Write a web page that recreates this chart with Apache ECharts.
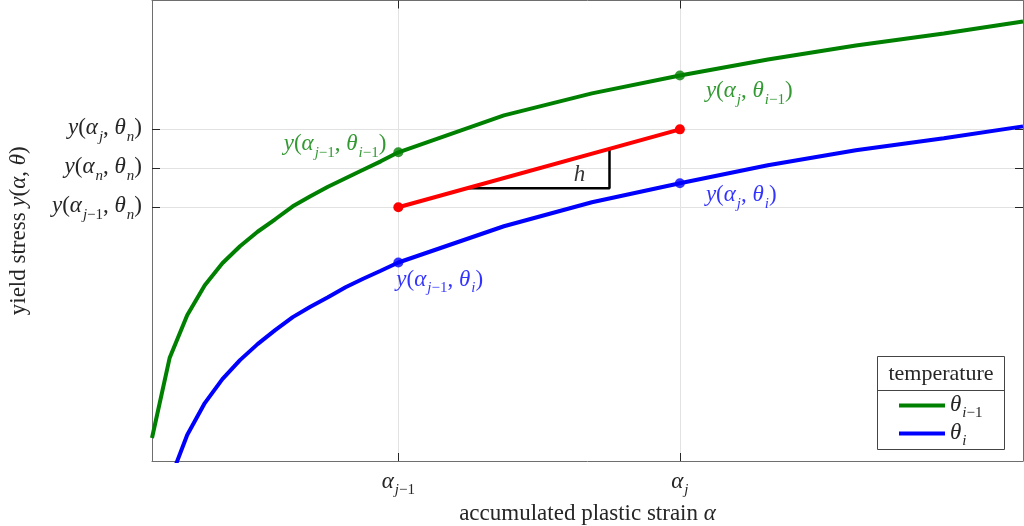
<!DOCTYPE html>
<html><head><meta charset="utf-8">
<script src="https://cdn.jsdelivr.net/npm/echarts@6/dist/echarts.min.js"></script>
<style>html,body{margin:0;padding:0;background:#fff}#c{width:1024px;height:526px}</style>
</head><body><div id="c"></div>
<script>
// ---- data ----
const strainPrev = [0,1,2,3,4,5,6,7,8,9,10,11,12,13,14,20,25,30,35,40,45,49.5];
const yieldPrev  = [23,103,146,176,198,215,229.5,242,255,265,274.5,283,291.5,300,309,346,368,386,402,416,428,440];
const strainCur  = [1,2,3,4,5,6,7,8,9,10,11,12,13,14,20,25,30,35,40,45,49.5];
const yieldCur   = [-20,26,58,82,101,117,131,144,154.5,164,174,182.5,190.5,198.7,235,259,278,296,311,323,335];
const alphaTicks = [14, 30];
const alphaTickLabels = ['{i|α}{si|j}{sn|−1}', '{i|α}{si|j}'];
const yTicks = [254, 293, 332];
const yTickLabels = [
  '{i|y}{n|(}{i|α}{si|j}{sn|−1}{n|, }{i|θ}{si|n}{n|)}',
  '{i|y}{n|(}{i|α}{si|n}{n|, }{i|θ}{si|n}{n|)}',
  '{i|y}{n|(}{i|α}{si|j}{n|, }{i|θ}{si|n}{n|)}'
];
const interpStrain = [14, 30];
const interpYield  = [254, 332];
const triangleStrain = [17.9, 26, 26];
const triangleYield  = [273, 273, 312.5];
const hPoint = [24.3, 285];
const legendNames = ['prev', 'cur'];
const legendLabels = {prev: '{i|θ}{si|i}{sn|−1}', cur: '{i|θ}{si|i}'};
const pointLabels = {
  gPrev: '{i|y}{n|(}{i|α}{si|j}{sn|−1}{n|, }{i|θ}{si|i}{sn|−1}{n|)}',
  gCur:  '{i|y}{n|(}{i|α}{si|j}{n|, }{i|θ}{si|i}{sn|−1}{n|)}',
  bPrev: '{i|y}{n|(}{i|α}{si|j}{sn|−1}{n|, }{i|θ}{si|i}{n|)}',
  bCur:  '{i|y}{n|(}{i|α}{si|j}{n|, }{i|θ}{si|i}{n|)}'
};

// ---- styling ----
const FONT = "'Liberation Serif', 'DejaVu Serif', serif";
const FS = 23, SFS = 15;
function rich(fs, sfs) {
  const p = Math.round(fs * 0.55);
  return {
    n:  {fontFamily: FONT, fontSize: fs, lineHeight: fs + 2, verticalAlign: 'top'},
    i:  {fontFamily: FONT, fontSize: fs, fontStyle: 'italic', lineHeight: fs + 2, verticalAlign: 'top'},
    si: {fontFamily: FONT, fontSize: sfs, fontStyle: 'italic', lineHeight: sfs, verticalAlign: 'top', padding: [p,0,0,1]},
    sn: {fontFamily: FONT, fontSize: sfs, lineHeight: sfs, verticalAlign: 'top', padding: [p,0,0,0]}
  };
}
const R = rich(FS, SFS);
const GREEN = '#008000', BLUE = '#0000ff', RED = '#ff0000';
const zip = (a, b) => a.map((v, k) => [v, b[k]]);

const chart = echarts.init(document.getElementById('c'), null, {renderer: 'canvas'});
const axisLineStyle = {color: '#6e6e6e', width: 1};
const tickStyle = {color: '#262626', width: 1};
const splitStyle = {color: '#e2e2e2', width: 1};

chart.setOption({
  animation: false,
  backgroundColor: '#fff',
  grid: {left: 152, right: 1, top: 0.5, bottom: 65, containLabel: false, outerBoundsMode: 'none'},
  xAxis: [{
    type: 'value', min: 0, max: 49.5, position: 'bottom',
    name: '{n|accumulated plastic strain }{i|α}', nameLocation: 'middle', nameGap: 30,
    nameTextStyle: {color: '#262626', rich: R},
    axisLine: {show: true, onZero: false, lineStyle: axisLineStyle},
    axisTick: {show: true, inside: true, length: 8, customValues: alphaTicks, lineStyle: tickStyle},
    axisLabel: {show: true, customValues: alphaTicks, margin: 9, color: '#262626', rich: R,
      formatter: v => alphaTickLabels[alphaTicks.indexOf(v)] || ''},
    splitLine: {show: true, lineStyle: splitStyle}
  }, {
    type: 'value', min: 0, max: 49.5, position: 'top',
    axisLine: {show: true, onZero: false, lineStyle: axisLineStyle},
    axisTick: {show: true, inside: true, length: 8, customValues: alphaTicks, lineStyle: tickStyle},
    axisLabel: {show: false}, splitLine: {show: false}
  }],
  yAxis: [{
    type: 'value', min: 0, max: 461, position: 'left',
    name: '{n|yield stress }{i|y}{n|(}{i|α}{n|, }{i|θ}{n|)}', nameLocation: 'middle', nameGap: 120, nameRotate: 90,
    nameTextStyle: {color: '#262626', rich: R},
    axisLine: {show: true, onZero: false, lineStyle: axisLineStyle},
    axisTick: {show: true, inside: true, length: 8, customValues: yTicks, lineStyle: tickStyle},
    axisLabel: {show: true, customValues: yTicks, margin: 10, color: '#262626', rich: R,
      formatter: v => yTickLabels[yTicks.indexOf(v)] || ''},
    splitLine: {show: true, lineStyle: splitStyle}
  }, {
    type: 'value', min: 0, max: 461, position: 'right',
    axisLine: {show: true, onZero: false, lineStyle: axisLineStyle},
    axisTick: {show: true, inside: true, length: 8, customValues: yTicks, lineStyle: tickStyle},
    axisLabel: {show: false}, splitLine: {show: false}
  }],
  legend: {
    left: 899, top: 393, orient: 'vertical', itemWidth: 46, itemHeight: 4, itemGap: 0,
    padding: 0, icon: 'rect', data: legendNames,
    formatter: name => legendLabels[name],
    textStyle: {color: '#262626', rich: R}
  },
  graphic: [
    {type: 'rect', shape: {x: 877.5, y: 356.5, width: 127, height: 93}, style: {fill: '#fff', stroke: '#444', lineWidth: 1}, z: 1},
    {type: 'line', shape: {x1: 877.5, y1: 390.5, x2: 1004.5, y2: 390.5}, style: {stroke: '#444', lineWidth: 1}, z: 2},
    {type: 'text', x: 941, y: 374, style: {text: 'temperature', font: '22px ' + FONT, fill: '#262626', textAlign: 'center', textVerticalAlign: 'middle'}, z: 2}
  ],
  series: [
    {name: 'prev', type: 'line', data: zip(strainPrev, yieldPrev), showSymbol: false, symbol: 'none',
     lineStyle: {color: GREEN, width: 4}, itemStyle: {color: GREEN}, z: 3},
    {name: 'cur', type: 'line', data: zip(strainCur, yieldCur), showSymbol: false, symbol: 'none',
     lineStyle: {color: BLUE, width: 4}, itemStyle: {color: BLUE}, z: 3},
    {name: 'tri', type: 'line', data: zip(triangleStrain, triangleYield), symbol: 'none',
     lineStyle: {color: '#000', width: 2.5}, z: 3},
    {name: 'interp', type: 'line', data: zip(interpStrain, interpYield), symbol: 'circle', symbolSize: 10, showSymbol: true,
     lineStyle: {color: RED, width: 4}, itemStyle: {color: RED}, z: 4},
    {name: 'h', type: 'scatter', symbolSize: 1, itemStyle: {color: 'rgba(0,0,0,0)'}, z: 5,
     data: [{value: hPoint, label: {show: true, position: 'inside', formatter: '{i|h}', color: '#000', rich: R}}]},
    {name: 'gpts', type: 'scatter', symbol: 'circle', symbolSize: 10, itemStyle: {color: GREEN}, z: 5,
     label: {show: true, position: 'inside', color: GREEN, rich: R, verticalAlign: 'middle'},
     data: [
       {value: [alphaTicks[0], yieldPrev[strainPrev.indexOf(alphaTicks[0])]], label: {formatter: pointLabels.gPrev, align: 'right', offset: [-12, -7]}},
       {value: [alphaTicks[1], yieldPrev[strainPrev.indexOf(alphaTicks[1])]], label: {formatter: pointLabels.gCur, align: 'left', offset: [26, 17]}}
     ]},
    {name: 'bpts', type: 'scatter', symbol: 'circle', symbolSize: 10, itemStyle: {color: BLUE}, z: 5,
     label: {show: true, position: 'inside', color: BLUE, rich: R, verticalAlign: 'middle'},
     data: [
       {value: [alphaTicks[0], yieldCur[strainCur.indexOf(alphaTicks[0])]], label: {formatter: pointLabels.bPrev, align: 'left', offset: [-2, 18]}},
       {value: [alphaTicks[1], yieldCur[strainCur.indexOf(alphaTicks[1])]], label: {formatter: pointLabels.bCur, align: 'left', offset: [26, 13]}}
     ]}
  ]
});
</script></body></html>
